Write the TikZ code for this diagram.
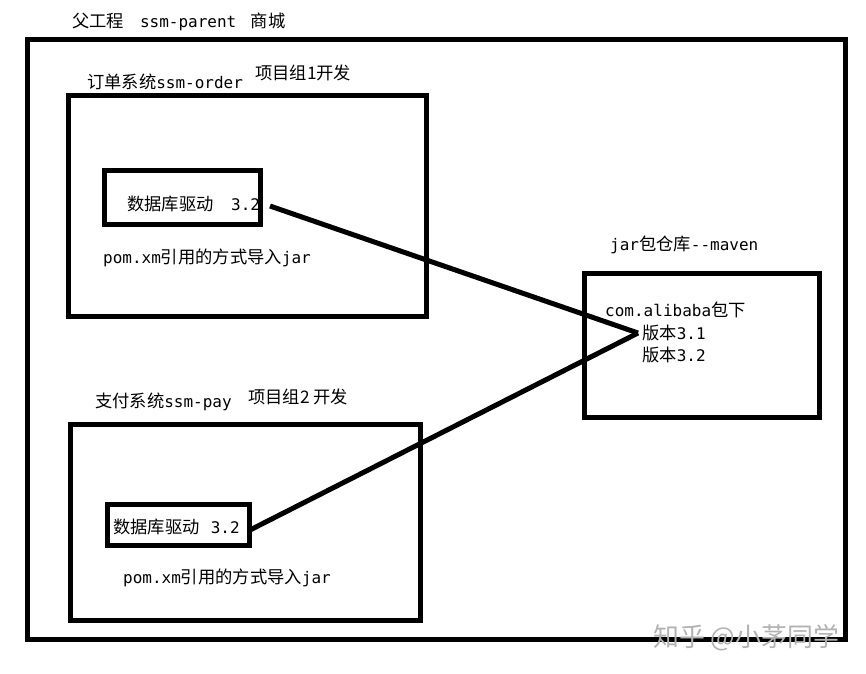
\documentclass[tikz,border=0pt]{standalone}
\usepackage{fontspec}
\setmainfont{DejaVu Sans Mono}
\newfontfamily\cjk[Scale=1.08]{Noto Sans CJK SC}
\begin{document}
\begin{tikzpicture}[x=1pt,y=-1pt,
  box/.style={draw=black,line width=5pt,fill=none},
  lbl/.style={anchor=west,inner sep=0pt,font=\fontsize{16}{19}\selectfont,text=black},
  link/.style={draw=black,line width=5pt}]
\useasboundingbox (0,0) rectangle (866,673);
\fill[white] (0,0) rectangle (866,673);
% boxes
\draw[box] (27,39.5) rectangle (845,639.5);
\draw[box] (68.5,95.5) rectangle (426,316.5);
\draw[box] (104,170) rectangle (260,224);
\draw[box] (70,424.5) rectangle (420.5,620.5);
\draw[box] (107.5,504.5) rectangle (249.5,545);
\draw[box] (584.5,273.5) rectangle (819.5,417.5);
% labels
\node[lbl] (parent) at (72,22) {{\cjk 父工程}\hspace{1em}ssm-parent\hspace{0.9em}{\cjk 商城}};
\node[lbl] (order) at (87,82) {{\cjk 订单系统}ssm-order};
\node[lbl] (grp1) at (255,73) {{\cjk 项目组1开发}};
\node[lbl] (drv1) at (127,204) {{\cjk 数据库驱动}\hspace{1.1em}3.2};
\node[lbl] (pom1) at (103,258) {pom.xm{\cjk 引用的方式导入}jar};
\node[lbl] (pay) at (95,402) {{\cjk 支付系统}ssm-pay};
\node[lbl] (grp2) at (248,397) {{\cjk 项目组2 开发}};
\node[lbl] (drv2) at (113,527) {{\cjk 数据库驱动}\hspace{0.7em}3.2};
\node[lbl] (pom2) at (123,578) {pom.xm{\cjk 引用的方式导入}jar};
\node[lbl] (repo) at (610,245) {jar{\cjk 包仓库}-{}-maven};
\node[lbl] (pkg) at (605,310) {com.alibaba{\cjk 包下}};
\node[lbl] (v31) at (642,333) {{\cjk 版本}3.1};
\node[lbl] (v32) at (642,355) {{\cjk 版本}3.2};
% connectors
\coordinate (s1) at (270,206);
\coordinate (s2) at (250,530);
\coordinate (hub) at (638,333);
\draw[link] (s1) -- (hub);
\draw[link] (s2) -- (hub);
% watermark
\node[anchor=west,inner sep=0pt,text=black!30,font=\cjk\fontsize{24}{28}\selectfont] (wm) at (653,638) {知乎 @小茅同学};
\end{tikzpicture}
\end{document}
